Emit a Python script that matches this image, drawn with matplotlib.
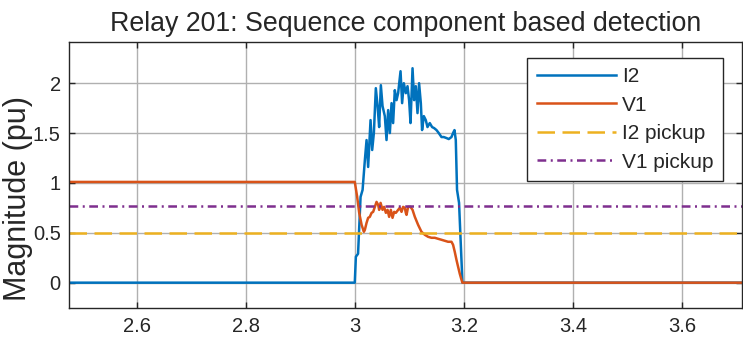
import matplotlib
matplotlib.use("Agg")
import matplotlib.pyplot as plt

# time (s) and magnitudes (pu)
t_i2 = [2.47, 3.000, 3.002, 3.006, 3.0106, 3.0143, 3.0185, 3.0216, 3.0245, 3.0289,
        3.0319, 3.0350, 3.0386, 3.0418, 3.0447, 3.0478, 3.0509, 3.0551, 3.0582,
        3.0612, 3.0643, 3.0674, 3.0703, 3.0734, 3.0766, 3.0795, 3.0839, 3.0868,
        3.0899, 3.0936, 3.0967, 3.0996, 3.1022, 3.1059, 3.1088, 3.1119, 3.1150,
        3.1179, 3.1211, 3.1234, 3.1266, 3.1302, 3.1333, 3.1375, 3.1418, 3.1454,
        3.1498, 3.1540, 3.1590, 3.1632, 3.1681, 3.1723, 3.1773, 3.1802, 3.1828,
        3.1852, 3.1875, 3.1912, 3.1938, 3.1974, 3.72]
i2 = [0, 0, 0.26, 0.29, 0.86, 0.93, 1.23, 1.43, 1.16, 1.63,
      1.33, 1.50, 1.95, 1.77, 1.56, 1.98, 1.77, 1.67, 1.43,
      1.73, 1.50, 1.80, 1.60, 1.93, 1.83, 1.90, 2.12, 1.80,
      2.00, 1.90, 1.97, 1.83, 1.60, 2.15, 1.83, 1.97, 1.70,
      2.00, 1.80, 1.53, 1.67, 1.63, 1.56, 1.60, 1.56, 1.55,
      1.53, 1.50, 1.46, 1.46, 1.45, 1.44, 1.46, 1.50, 1.53,
      1.43, 0.93, 0.80, 0.46, 0.0, 0.0]

t_v1 = [2.47, 3.000, 3.0044, 3.0081, 3.0125, 3.0167, 3.0185, 3.0216, 3.0245, 3.0276,
        3.0308, 3.0337, 3.0368, 3.0399, 3.0429, 3.0447, 3.0473, 3.0509, 3.0538,
        3.0570, 3.0601, 3.0630, 3.0661, 3.0692, 3.0722, 3.0753, 3.0795, 3.0826,
        3.0857, 3.0886, 3.0918, 3.0936, 3.0949, 3.0978, 3.1022, 3.1059, 3.1101,
        3.1161, 3.1223, 3.1284, 3.1344, 3.1406, 3.1467, 3.1527, 3.1590, 3.1650,
        3.1711, 3.1773, 3.1802, 3.1833, 3.1864, 3.1894, 3.1925, 3.1956, 3.1974, 3.72]
v1 = [1.01, 1.01, 0.86, 0.70, 0.58, 0.51, 0.53, 0.60, 0.65, 0.66,
      0.70, 0.71, 0.76, 0.81, 0.78, 0.73, 0.80, 0.73, 0.76,
      0.70, 0.73, 0.66, 0.73, 0.65, 0.71, 0.70, 0.73, 0.75,
      0.71, 0.76, 0.75, 0.70, 0.68, 0.76, 0.76, 0.73, 0.66,
      0.58, 0.51, 0.48, 0.46, 0.45, 0.45, 0.44, 0.43, 0.42,
      0.41, 0.41, 0.38, 0.31, 0.23, 0.16, 0.09, 0.03, 0.0, 0.0]

i2_pickup = 0.5
v1_pickup = 0.77

xticks = [2.6, 2.8, 3.0, 3.2, 3.4, 3.6]
xticklabels = ["2.6", "2.8", "3", "3.2", "3.4", "3.6"]
yticks = [0, 0.5, 1, 1.5, 2]
yticklabels = ["0", "0.5", "1", "1.5", "2"]

plt.rcParams['font.family'] = ['Liberation Sans', 'DejaVu Sans']

fig = plt.figure(figsize=(7.43, 3.47), dpi=100)
ax = fig.add_axes([69 / 743, 1 - 308.3 / 347, (742 - 69) / 743, (308.3 - 42.3) / 347])

lw = 1.8
ax.plot(t_i2, i2, color='#0072BD', lw=lw, label='I2')
ax.plot(t_v1, v1, color='#D95319', lw=lw, label='V1')
ax.axhline(i2_pickup, color='#EDB120', lw=lw, dashes=(7, 3), label='I2 pickup')
ax.axhline(v1_pickup, color='#7E2F8E', lw=lw, dashes=(3.5, 1.8, 0.8, 1.8), label='V1 pickup')

ax.set_xlim(2.476, 3.71)
ax.set_ylim(-0.257, 2.41)
ax.set_xticks(xticks)
ax.set_xticklabels(xticklabels)
ax.set_yticks(yticks)
ax.set_yticklabels(yticklabels)

ax.grid(True, color='#b0b0b0', lw=1.0)
ax.set_axisbelow(True)
for s in ax.spines.values():
    s.set_color('#262626')
    s.set_linewidth(1.0)
ax.tick_params(direction='in', length=4.5, width=1.0, colors='#262626',
               labelsize=14.5, top=True, right=True, pad=6)

ax.set_ylabel('Magnitude (pu)', fontsize=22, color='#262626')
ax.yaxis.set_label_coords(-0.0535, 0.411)
ax.set_title('Relay 201: Sequence component based detection', fontsize=19.3,
             color='#262626', pad=8)

leg = ax.legend(loc='upper right', bbox_to_anchor=(723 / 743, 1 - 58 / 347),
                bbox_transform=fig.transFigure, borderaxespad=0, fontsize=15,
                handlelength=3.8, handletextpad=0.3, labelspacing=0.45,
                borderpad=0.45, fancybox=False, framealpha=1, edgecolor='#262626')
leg.get_frame().set_linewidth(1.0)
for txt in leg.get_texts():
    txt.set_color('#262626')

fig.savefig('out.png', dpi=100)
